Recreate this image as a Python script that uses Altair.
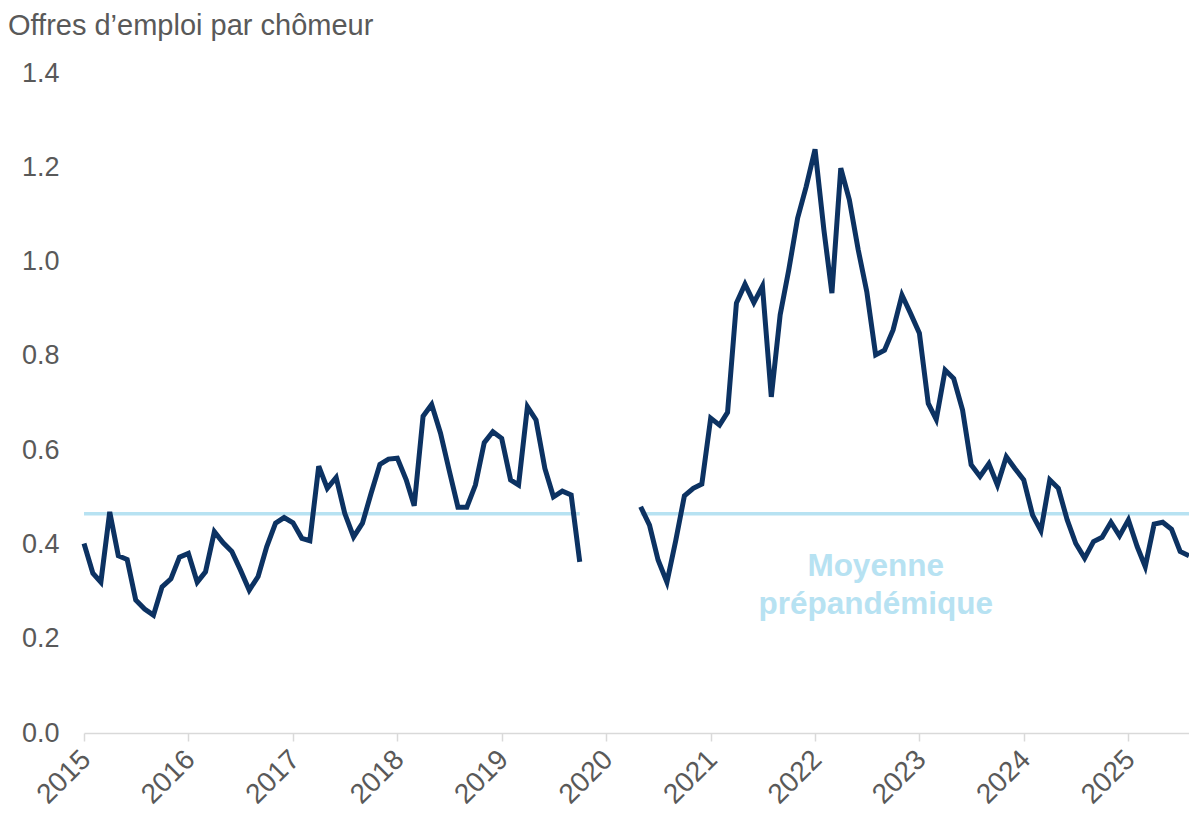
import altair as alt
import pandas as pd

# ---------------- data ----------------
title_text = "Offres d\u2019emploi par chômeur"

# Monthly series, first segment: Jan 2015 - Oct 2019
seg1_start = "2015-01-01"
seg1_values = [
    0.402, 0.339, 0.320, 0.469, 0.376, 0.368, 0.282, 0.263, 0.250, 0.310, 0.327, 0.373,  # 2015
    0.381, 0.320, 0.342, 0.427, 0.404, 0.385, 0.346, 0.303, 0.332, 0.395, 0.445, 0.457,  # 2016
    0.446, 0.413, 0.408, 0.566, 0.519, 0.542, 0.466, 0.416, 0.445, 0.508, 0.570, 0.581,  # 2017
    0.583, 0.537, 0.482, 0.672, 0.697, 0.636, 0.558, 0.479, 0.479, 0.526, 0.616, 0.639,  # 2018
    0.625, 0.537, 0.526, 0.692, 0.664, 0.561, 0.501, 0.513, 0.505, 0.363,                # 2019
]

# Second segment: May 2020 - Aug 2025
seg2_start = "2020-05-01"
seg2_values = [
    0.480, 0.441, 0.367, 0.320, 0.409, 0.503, 0.519, 0.528,                              # 2020
    0.668, 0.653, 0.680, 0.912, 0.952, 0.913, 0.948, 0.713, 0.887, 0.982, 1.092, 1.159,  # 2021
    1.238, 1.067, 0.933, 1.198, 1.131, 1.025, 0.936, 0.802, 0.812, 0.855, 0.929, 0.890,  # 2022
    0.848, 0.699, 0.665, 0.770, 0.752, 0.685, 0.569, 0.544, 0.571, 0.526, 0.586, 0.561,  # 2023
    0.537, 0.462, 0.429, 0.537, 0.519, 0.452, 0.402, 0.371, 0.406, 0.415, 0.447, 0.418,  # 2024
    0.452, 0.395, 0.353, 0.443, 0.447, 0.432, 0.385, 0.376,                              # 2025
]

# Pre-pandemic average line
avg_value = 0.465
avg_seg_start = ["2015-01-01", "2020-05-01"]
avg_seg_end = ["2019-10-01", "2025-08-01"]

# Annotation
ann_labels = ["Moyenne", "prépandémique"]
ann_date = ["2022-08-01", "2022-08-01"]
ann_y = [0.333, 0.252]

year_ticks = list(range(2015, 2026))
y_ticks = [0.0, 0.2, 0.4, 0.6, 0.8, 1.0, 1.2, 1.4]

# ---------------- tables ----------------
def month_dates(start, n):
    return [d.strftime("%Y-%m-%dT00:00:00") for d in pd.date_range(start, periods=n, freq="MS")]

line_df = pd.DataFrame({
    "date": month_dates(seg1_start, len(seg1_values)) + month_dates(seg2_start, len(seg2_values)),
    "value": seg1_values + seg2_values,
    "segment": ["a"] * len(seg1_values) + ["b"] * len(seg2_values),
})
avg_df = pd.DataFrame({
    "start": [s + "T00:00:00" for s in avg_seg_start],
    "end": [s + "T00:00:00" for s in avg_seg_end],
    "v": [avg_value] * len(avg_seg_start),
})
ann_df = pd.DataFrame({
    "date": [d + "T00:00:00" for d in ann_date],
    "y": ann_y,
    "label": ann_labels,
})
title_df = pd.DataFrame({"t": [title_text]})

# ---------------- styling ----------------
FONT = "Liberation Sans"
NAVY = "#0C3262"
LIGHT = "#B7E2F2"
GREY = "#595959"
AXIS_GREY = "#D9D9D9"

xscale = alt.Scale(domain=[alt.DateTime(year=2015, month=1, date=1),
                           alt.DateTime(year=2025, month=8, date=1)])
yscale = alt.Scale(domain=[0, 1.4], nice=False)

xaxis = alt.Axis(
    title=None, values=[alt.DateTime(year=y, month=1, date=1) for y in year_ticks],
    format="%Y", labelAngle=315, labelAlign="right", labelBaseline="middle",
    labelFontSize=28, labelFont=FONT, labelColor=GREY, labelPadding=14, labelOffset=2,
    labelFlush=False, labelOverlap=False,
    tickSize=8, tickColor=AXIS_GREY, tickWidth=1.5,
    domainColor=AXIS_GREY, domainWidth=1.5, grid=False,
)
yaxis = alt.Axis(
    title=None, values=y_ticks, format=".1f", domain=False, ticks=False, grid=False,
    labelFontSize=27, labelFont=FONT, labelColor=GREY, labelPadding=25,
)


def xenc(field):
    return alt.X(field, type="temporal", scale=xscale, axis=xaxis)


def yenc(field):
    return alt.Y(field, type="quantitative", scale=yscale, axis=yaxis)


avg_rule = alt.Chart(avg_df).mark_rule(color=LIGHT, strokeWidth=3.5).encode(
    x=xenc("start"), x2="end:T", y=yenc("v")
)

line = alt.Chart(line_df).mark_line(color=NAVY, strokeWidth=5).encode(
    x=xenc("date"), y=yenc("value"), detail="segment:N"
)

ann = alt.Chart(ann_df).mark_text(
    font=FONT, fontSize=31.5, fontWeight="bold", color=LIGHT,
    align="center", baseline="alphabetic",
).encode(x=xenc("date"), y=yenc("y"), text="label:N")

title = alt.Chart(title_df).mark_text(
    font=FONT, fontSize=29, color=GREY, align="left", baseline="alphabetic",
).encode(x=alt.value(-76), y=alt.value(-38), text="t:N")

chart = alt.layer(avg_rule, line, ann, title).properties(
    width=1105, height=660,
    padding={"left": 76, "top": 65, "right": 0, "bottom": 76},
    autosize=alt.AutoSizeParams(type="none"),
    background="white",
).configure_view(stroke=None)

chart.save("out.html", embed_options={"renderer": "svg", "actions": False})
